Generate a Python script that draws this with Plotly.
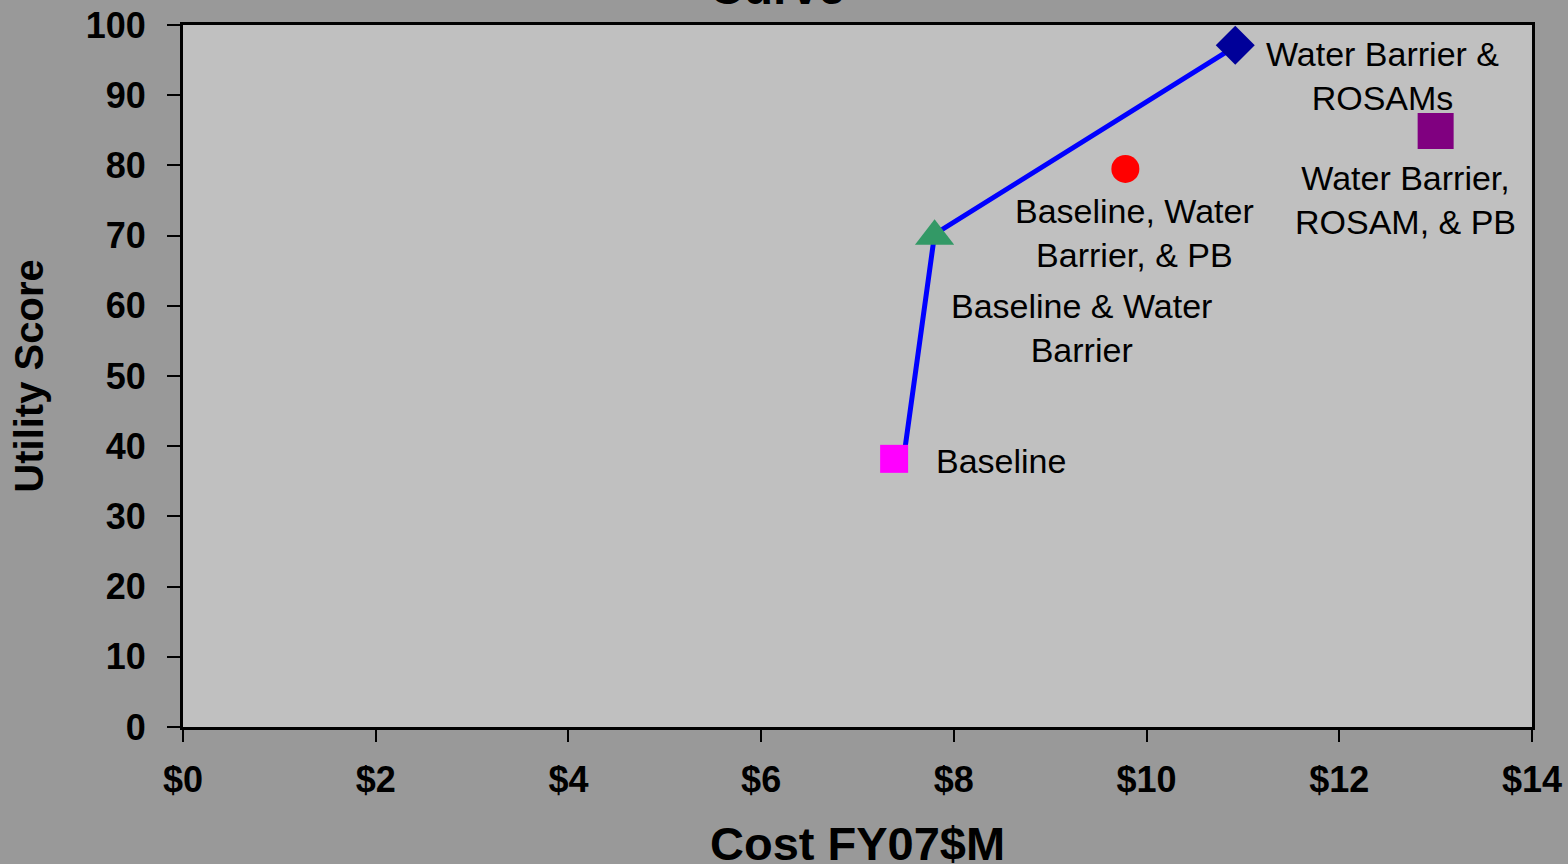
import plotly.graph_objects as go

# Alternatives: cost (FY07 $M) and utility score
names = ["Baseline", "Baseline & Water Barrier", "Baseline, Water Barrier, & PB",
         "Water Barrier & ROSAMs", "Water Barrier, ROSAM, & PB"]
labels = ["Baseline", "Baseline & Water<br>Barrier", "Baseline, Water<br>Barrier, & PB",
          "Water Barrier &<br>ROSAMs", "Water Barrier,<br>ROSAM, & PB"]
cost = [7.38, 7.80, 9.78, 10.92, 13.00]
utility = [38.2, 69.9, 79.5, 97.1, 84.9]

# Efficient frontier line
frontier_cost = [7.48, 7.80, 10.95]
frontier_utility = [38.4, 70.2, 97.2]

x_ticks = [0, 2, 4, 6, 8, 10, 12, 14]
x_tick_text = ["$0", "$2", "$4", "$6", "$8", "$10", "$12", "$14"]
y_ticks = [0, 10, 20, 30, 40, 50, 60, 70, 80, 90, 100]

FONT = "Liberation Sans, Arial, sans-serif"

marker_styles = [
    dict(symbol="square", color="#FF00FF", size=28),
    dict(symbol="triangle-up", color="#339966", size=34),
    dict(symbol="circle", color="#FF0000", size=28),
    dict(symbol="diamond", color="#000099", size=30),
    dict(symbol="square", color="#800080", size=36),
]
# label placement (pixel offsets from each marker)
label_pos = [
    dict(xanchor="left", xshift=40, yshift=-2),
    dict(xanchor="center", xshift=147, yshift=-92),
    dict(xanchor="center", xshift=9, yshift=-64),
    dict(xanchor="center", xshift=147, yshift=-31),
    dict(xanchor="center", xshift=-30, yshift=-69),
]

fig = go.Figure()

fig.add_trace(go.Scatter(
    x=frontier_cost, y=frontier_utility, mode="lines",
    line=dict(color="#0000FF", width=5), showlegend=False, hoverinfo="skip",
))

for i, n in enumerate(names):
    st = marker_styles[i]
    fig.add_trace(go.Scatter(
        x=[cost[i]], y=[utility[i]], mode="markers", name=n,
        marker=dict(symbol=st["symbol"], color=st["color"], size=st["size"],
                    line=dict(width=0)),
        showlegend=False,
    ))

annotations = []
for i, lab in enumerate(labels):
    p = label_pos[i]
    annotations.append(dict(
        x=cost[i], y=utility[i], xref="x", yref="y", text=lab, showarrow=False,
        xanchor=p["xanchor"], yanchor="middle", align="center",
        xshift=p["xshift"], yshift=p["yshift"],
        font=dict(family=FONT, size=34, color="black"),
    ))

# chart title (top line runs off the page)
annotations.append(dict(
    x=0.44, y=1.0, xref="paper", yref="paper", yshift=9, text="<b>Curve</b>",
    showarrow=False, xanchor="center", yanchor="bottom",
    font=dict(family=FONT, size=48, color="black"),
))

# x-axis title, sitting against the bottom edge
annotations.append(dict(
    x=0.5, y=0.0, xref="paper", yref="paper", yshift=-116, text="<b>Cost FY07$M</b>",
    showarrow=False, xanchor="center", yanchor="middle",
    font=dict(family=FONT, size=47, color="black"),
))

fig.update_layout(
    width=1568, height=864,
    paper_bgcolor="#999999", plot_bgcolor="#C0C0C0",
    margin=dict(l=183, r=36, t=25, b=137),
    annotations=annotations,
    xaxis=dict(
        range=[0, 14], tickmode="array", tickvals=x_ticks, ticktext=x_tick_text,
        tickfont=dict(family=FONT, size=36, color="black", weight="bold"),
        ticks="outside", ticklen=12, tickwidth=2, tickcolor="black",
        showline=True, linecolor="black", linewidth=3, mirror=True,
        showgrid=False, zeroline=False, ticklabelstandoff=7, automargin=False,
    ),
    yaxis=dict(
        range=[0, 100], tickmode="array", tickvals=y_ticks,
        tickfont=dict(family=FONT, size=36, color="black", weight="bold"),
        ticks="outside", ticklen=13, tickwidth=2, tickcolor="black",
        showline=True, linecolor="black", linewidth=3, mirror=True,
        showgrid=False, zeroline=False, ticklabelstandoff=14, automargin=False,
        title=dict(text="<b>Utility Score</b>", standoff=30,
                   font=dict(family=FONT, size=40, color="black")),
    ),
)

fig.write_html("out.html")
